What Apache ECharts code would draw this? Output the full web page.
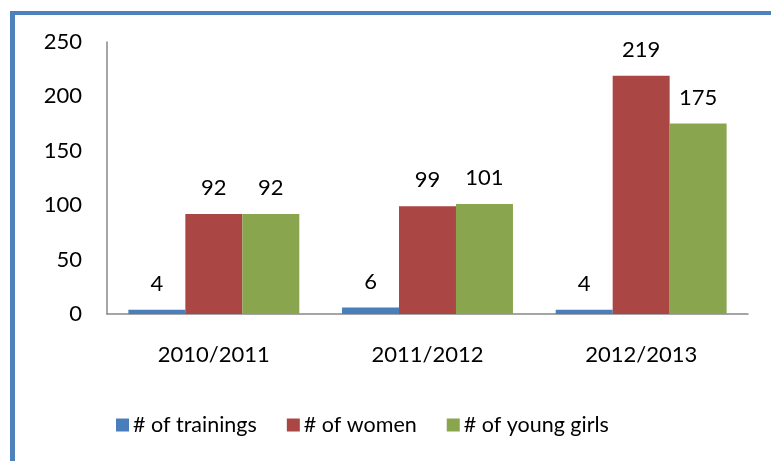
<!DOCTYPE html>
<html><head><meta charset="utf-8">
<script src="https://cdn.jsdelivr.net/npm/echarts@6/dist/echarts.min.js"></script>
<style>html,body{margin:0;padding:0;background:#fff}#c{width:771px;height:461px}</style>
</head><body><div id="c"></div>
<script>
const categories = ['2010/2011', '2011/2012', '2012/2013'];
const seriesNames = ['# of trainings', '# of women', '# of young girls'];
const trainings = [4, 6, 4];
const women = [92, 99, 219];
const girls = [92, 101, 175];
const colors = ['#4A7EBB', '#AA4643', '#89A54E'];
const font = 'Lato, "Open Sans", sans-serif';

const chart = echarts.init(document.getElementById('c'));
const mk = (name, data, color) => ({
  name, type: 'bar', data, barGap: '0%', barCategoryGap: '20%',
  itemStyle: { color },
  label: { show: true, position: 'top', distance: 15, color: '#000', fontSize: 22, fontFamily: font }
});
chart.setOption({
  animation: false,
  grid: { left: 107, right: 23, top: 42, bottom: 147 },
  graphic: [
    { type: 'rect', shape: { x: 10, y: 11, width: 5, height: 460 }, style: { fill: '#4F81BD' } },
    { type: 'rect', shape: { x: 10, y: 11, width: 761, height: 4 }, style: { fill: '#4F81BD' } }
  ],
  legend: {
    top: 409, left: 111, itemWidth: 13, itemHeight: 13, itemGap: 30,
    icon: 'rect',
    textStyle: { fontSize: 21.5, fontFamily: font, color: '#000', padding: [0, 0, 0, -1] },
    data: seriesNames
  },
  xAxis: {
    type: 'category', data: categories,
    axisLine: { lineStyle: { color: '#888', width: 1.5 } },
    axisTick: { show: false },
    axisLabel: { margin: 30, fontSize: 22, fontFamily: font, color: '#000' }
  },
  yAxis: {
    type: 'value', min: 0, max: 250, interval: 50,
    axisLine: { show: true, lineStyle: { color: '#888', width: 1.5 } },
    axisTick: { show: false },
    splitLine: { show: false },
    axisLabel: { margin: 25, fontSize: 22, fontFamily: font, color: '#000' }
  },
  series: [
    mk(seriesNames[0], trainings, colors[0]),
    mk(seriesNames[1], women, colors[1]),
    mk(seriesNames[2], girls, colors[2])
  ]
});
</script></body></html>
